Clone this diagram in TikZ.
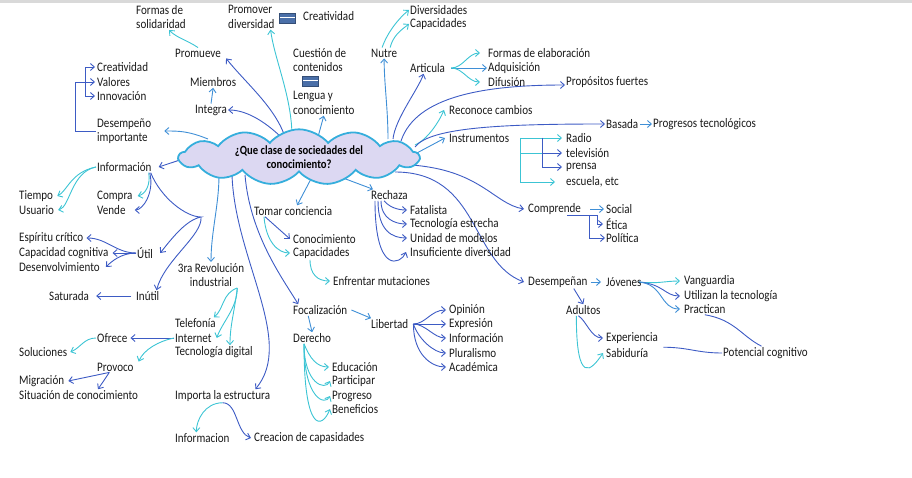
\documentclass[tikz,border=0pt]{standalone}
\usepackage{fontspec}
\setmainfont{Carlito}[FakeStretch=0.85]
\usetikzlibrary{shapes.symbols,arrows.meta,backgrounds}

\definecolor{lcyan}{HTML}{3CC4D4}
\definecolor{lblue}{HTML}{3D5BC4}
\definecolor{lmid}{HTML}{3F8FD6}
\definecolor{cloudfill}{HTML}{DCD8F2}
\definecolor{cloudline}{HTML}{35AEDC}
\definecolor{iconblue}{HTML}{4A6FA8}

\tikzset{
  txt/.style={anchor=west, inner sep=1pt, align=left, text=black!90,
    font=\fontsize{13}{14.5}\selectfont},
  cloudbox/.style={cloud, cloud puffs=13, cloud puff arc=100, aspect=5,
    draw=cloudline, line width=1.8pt, fill=cloudfill, inner sep=0pt,
    minimum width=240pt, minimum height=46pt, align=center,
    font=\fontsize{12.5}{14}\selectfont\bfseries},
  noteicon/.style={rectangle, fill=iconblue, draw=iconblue!70!black,
    minimum width=16pt, minimum height=10pt, inner sep=0pt,
    path picture={\draw[white, line width=1pt] (path picture bounding box.west)
      -- (path picture bounding box.east);}},
  lnk/.style={->, draw=lmid, line width=0.9pt},
  lnkc/.style={->, draw=lcyan, line width=0.9pt},
  lnkb/.style={->, draw=lblue, line width=0.9pt},
  wire/.style={draw=lblue, line width=0.9pt}
}

\begin{document}
\begin{tikzpicture}[x=1pt, y=-1pt, >={Straight Barb[length=4pt,width=7pt]}]
  \useasboundingbox (0,0) rectangle (912,478);
  \fill[gray!30] (0,0) rectangle (912,3);

  \pgfmathsetmacro{\xc}{299};
  \pgfmathsetmacro{\yc}{157};
  \node[cloudbox] (qs) at (\xc,\yc) {¿Que clase de sociedades del\\conocimiento?};

  % arriba
  \node[txt] (formas) at (135,17) {Formas de\\solidaridad};
  \node[txt] (promover) at (227,17) {Promover\\diversidad};
  \node[noteicon] (icon1) at (287,18) {};
  \node[txt] (creat1) at (302,16) {Creatividad};
  \node[txt] (cuestion) at (292,60) {Cuestión de\\contenidos};
  \node[noteicon] (icon2) at (310,81) {};
  \node[txt] (lengua) at (292,103) {Lengua y\\conocimiento};
  \node[txt] (promueve) at (174,53) {Promueve};
  \node[txt] (miembros) at (189,82) {Miembros};
  \node[txt] (integra) at (194,110) {Integra};
  \node[txt] (creat2) at (96,67) {Creatividad};
  \node[txt] (valores) at (96,82) {Valores};
  \node[txt] (innov) at (96,96) {Innovación};
  \node[txt] (desemp) at (96,131) {Desempeño\\importante};

  % izquierda
  \node[txt] (info) at (96,167) {Información};
  \node[txt] (tiempo) at (18,196) {Tiempo};
  \node[txt] (usuario) at (18,210) {Usuario};
  \node[txt] (compra) at (96,196) {Compra};
  \node[txt] (vende) at (96,210) {Vende};
  \node[txt] (espiritu) at (18,238) {Espíritu crítico};
  \node[txt] (capcog) at (18,253) {Capacidad cognitiva};
  \node[txt] (desenv) at (18,267) {Desenvolvimiento};
  \node[txt] (util) at (136,253) {Útil};
  \node[txt] (saturada) at (48,296) {Saturada};
  \node[txt] (inutil) at (135,296) {Inútil};
  \node[txt, anchor=center, align=center] (revol) at (211,275) {3ra Revolución\\industrial};
  \node[txt] (telef) at (174,323) {Telefonía};
  \node[txt] (internet) at (174,338) {Internet};
  \node[txt] (tecdig) at (174,352) {Tecnología digital};
  \node[txt] (ofrece) at (96,338) {Ofrece};
  \node[txt] (soluc) at (18,352) {Soluciones};
  \node[txt] (provoco) at (96,367) {Provoco};
  \node[txt] (migra) at (18,381) {Migración};
  \node[txt] (situac) at (18,395) {Situación de conocimiento};
  \node[txt] (importa) at (174,396) {Importa la estructura};
  \node[txt] (informacion) at (174,438) {Informacion};
  \node[txt] (creacion) at (253,438) {Creacion de capasidades};

  % centro abajo
  \node[txt] (tomar) at (253,211) {Tomar conciencia};
  \node[txt] (conoc) at (292,239) {Conocimiento};
  \node[txt] (capac) at (292,253) {Capacidades};
  \node[txt] (enfrentar) at (332,281) {Enfrentar mutaciones};
  \node[txt] (rechaza) at (370,195) {Rechaza};
  \node[txt] (fatal) at (409,210) {Fatalista};
  \node[txt] (tecest) at (409,224) {Tecnología estrecha};
  \node[txt] (unidad) at (409,238) {Unidad de modelos};
  \node[txt] (insuf) at (409,252) {Insuficiente diversidad};
  \node[txt] (focal) at (292,310) {Focalización};
  \node[txt] (derecho) at (292,338) {Derecho};
  \node[txt] (libertad) at (370,324) {Libertad};
  \node[txt] (opinion) at (448,310) {Opinión};
  \node[txt] (expres) at (448,324) {Expresión};
  \node[txt] (infolib) at (448,338) {Información};
  \node[txt] (plural) at (448,353) {Pluralismo};
  \node[txt] (academ) at (448,367) {Académica};
  \node[txt] (educ) at (331,367) {Educación};
  \node[txt] (partic) at (331,381) {Participar};
  \node[txt] (progreso) at (331,396) {Progreso};
  \node[txt] (benef) at (331,409) {Beneficios};

  % derecha
  \node[txt] (divers) at (409,10) {Diversidades};
  \node[txt] (capac2) at (409,24) {Capacidades};
  \node[txt] (nutre) at (370,53) {Nutre};
  \node[txt] (articula) at (409,68) {Articula};
  \node[txt] (formaselab) at (487,53) {Formas de elaboración};
  \node[txt] (adquis) at (487,68) {Adquisición};
  \node[txt] (difus) at (487,82) {Difusión};
  \node[txt] (propos) at (565,82) {Propósitos fuertes};
  \node[txt] (reconoce) at (448,110) {Reconoce cambios};
  \node[txt] (basada) at (605,124) {Basada};
  \node[txt] (progtec) at (652,124) {Progresos tecnológicos};
  \node[txt] (instrum) at (448,138) {Instrumentos};
  \node[txt] (radio) at (565,138) {Radio};
  \node[txt] (tele) at (565,153) {televisión};
  \node[txt] (prensa) at (565,167) {prensa};
  \node[txt] (escuela) at (565,182) {escuela, etc};
  \node[txt] (comprende) at (527,209) {Comprende};
  \node[txt] (social) at (605,209) {Social};
  \node[txt] (etica) at (605,224) {Ética};
  \node[txt] (politica) at (605,238) {Política};
  \node[txt] (desempenan) at (527,282) {Desempeñan};
  \node[txt] (jovenes) at (605,282) {Jóvenes};
  \node[txt] (adultos) at (565,310) {Adultos};
  \node[txt] (vanguard) at (683,281) {Vanguardia};
  \node[txt] (utilizan) at (683,296) {Utilizan la tecnología};
  \node[txt] (practican) at (683,309) {Practican};
  \node[txt] (experien) at (605,338) {Experiencia};
  \node[txt] (sabid) at (605,353) {Sabiduría};
  \node[txt] (potencial) at (722,353) {Potencial cognitivo};

  \coordinate (fork) at (201,217);

  \begin{scope}[on background layer]
    % desde la nube hacia arriba
    \draw[lnkc] ([shift={(-7,-20)}]qs.center) .. controls +(0,-40) and +(4,30) .. ([xshift=-5pt]promover.south east);
    \draw[lnkb] ([shift={(-14,-20)}]qs.center) .. controls +(-10,-30) and +(20,25) .. ([xshift=4pt]promueve.south east);
    \draw[lnkb] ([shift={(-16,-18)}]qs.center) .. controls +(-15,-15) and +(20,0) .. (integra.east);
    \draw[lnk] (integra.north) -- (miembros.south);
    \draw[lnkc] (promueve.north) .. controls +(-12,-8) and +(8,8) .. ([xshift=8pt]formas.south);
    \draw[lnk] ([shift={(19,-20)}]qs.center) -- (lengua.south);
    \draw[lnk] ([shift={(-91,-18)}]qs.center) .. controls +(-20,-8) and +(15,0) .. ([xshift=12pt]desemp.east);
    \draw[lnkb] (desemp.west) -- ++(-21,0) |- ([xshift=-1pt]valores.west);
    \draw[lnkb] ([xshift=-11pt]valores.west) |- ([xshift=-1pt]creat2.west);
    \draw[lnkb] ([xshift=-11pt]valores.west) |- ([xshift=-1pt]innov.west);
    \draw[lnkb] ([shift={(-110,0)}]qs.center) -- ([xshift=6pt]info.east);

    % informacion
    \draw[lnkc] ([xshift=-4pt]info.south east) .. controls +(2,12) and +(8,-2) .. ([xshift=4pt]compra.east);
    \draw[lnkb] ([xshift=-3pt]info.south east) .. controls +(5,20) and +(8,0) .. ([xshift=8pt]vende.east);
    \draw[lnkc] (info.west) .. controls +(-25,5) and +(10,-5) .. ([xshift=3pt]tiempo.east);
    \draw[lnkc] (info.west) .. controls +(-25,5) and +(12,-3) .. ([xshift=3pt]usuario.east);
    \draw[lnkb] ([xshift=-2pt]info.south east) .. controls +(10,25) and +(-15,0) .. (fork)
      .. controls +(-15,3) and +(12,-15) .. ([xshift=6pt]util.east);
    \draw[lnkb] (fork) .. controls +(2,18) and +(8,-30) .. ([xshift=-4pt]inutil.north east);
    \draw[lnkb] (util.west) .. controls +(-20,0) and +(20,0) .. ([xshift=2pt]espiritu.east);
    \draw[lnkb] (util.west) -- ([xshift=3pt]capcog.east);
    \draw[lnkb] (util.west) .. controls +(-15,0) and +(5,-5) .. ([xshift=5pt]desenv.east);
    \draw[lnkb] ([xshift=-4pt]inutil.west) -- ([xshift=6pt]saturada.east);

    % hacia abajo
    \draw[lnk] ([shift={(-80,18)}]qs.center) .. controls +(0,30) and +(0,-30) .. (revol.north);
    \draw[lnkc] ([xshift=-8pt]revol.south east) .. controls +(-15,5) and +(10,-8) .. ([xshift=-3pt]telef.north east);
    \draw[lnkc] ([xshift=-8pt]revol.south east) .. controls +(0,20) and +(5,-15) .. ([xshift=4pt]internet.east);
    \draw[lnkc] ([xshift=-8pt]revol.south east) .. controls +(-3,25) and +(0,-20) .. ([xshift=16pt]tecdig.north);
    \draw[lnkb] (internet.west) -- ([xshift=2pt]ofrece.east);
    \draw[lnkc] (internet.west) .. controls +(-15,3) and +(5,-12) .. ([xshift=4pt]provoco.north east);
    \draw[lnkc] (ofrece.west) .. controls +(-12,0) and +(10,-4) .. ([xshift=2pt]soluc.east);
    \draw[lnkb] ([xshift=-6pt]provoco.south) -- ([xshift=3pt]migra.east);
    \draw[lnkb] ([xshift=-6pt]provoco.south) -- ([xshift=80pt]situac.north west);
    \draw[lnkb] ([shift={(-67,18)}]qs.center) .. controls +(3,85) and +(40,-48) .. ([xshift=-16pt]importa.north east);
    \draw[lnkc] (importa.south) .. controls +(-18,0) and +(0,-12) .. ([xshift=-6pt]informacion.north);
    \draw[lnkb] (importa.south) .. controls +(15,0) and +(-15,-5) .. ([xshift=-2pt]creacion.west);
    \draw[lnkb] ([shift={(-54,18)}]qs.center) .. controls +(5,60) and +(-15,-25) .. ([xshift=-22pt]focal.north);
    \draw[lnk] ([xshift=-12pt]focal.south) -- (derecho.north);
    \draw[lnk] ([xshift=3pt]focal.east) -- ([xshift=1pt]libertad.north west);
    \draw[lnkb] ([xshift=4pt]libertad.east) .. controls +(12,0) and +(-15,0) .. ([xshift=-2pt]opinion.west);
    \draw[lnkb] ([xshift=4pt]libertad.east) -- ([xshift=-2pt]expres.west);
    \draw[lnkb] ([xshift=4pt]libertad.east) .. controls +(12,0) and +(-12,0) .. ([xshift=-2pt]infolib.west);
    \draw[lnkb] ([xshift=4pt]libertad.east) .. controls +(5,15) and +(-12,0) .. ([xshift=-2pt]plural.west);
    \draw[lnkb] ([xshift=4pt]libertad.east) .. controls +(0,30) and +(-15,0) .. ([xshift=-2pt]academ.west);
    \draw[lnkc] ([xshift=12pt]derecho.south west) .. controls +(6,15) and +(-12,0) .. ([xshift=-2pt]educ.west);
    \draw[lnkc] ([xshift=12pt]derecho.south west) .. controls +(0,40) and +(-5,10) .. ([xshift=-1pt]partic.west);
    \draw[lnkc] ([xshift=12pt]derecho.south west) .. controls +(0,55) and +(-5,10) .. ([xshift=-1pt]progreso.west);
    \draw[lnkc] ([xshift=12pt]derecho.south west) .. controls +(0,90) and +(-8,20) .. ([xshift=-1pt]benef.west);

    % tomar conciencia, rechaza
    \draw[lnk] ([shift={(13,20)}]qs.center) -- ([xshift=4pt]tomar.north);
    \draw[lnkb] ([xshift=12pt]tomar.south west) -- ([xshift=-2pt]conoc.west);
    \draw[lnkc] ([xshift=11pt]tomar.south west) .. controls +(2,25) and +(-12,0) .. ([xshift=-2pt]capac.west);
    \draw[lnkc] ([xshift=18pt]capac.south west) .. controls +(0,15) and +(-12,0) .. ([xshift=-2pt]enfrentar.west);
    \draw[lnk] ([shift={(36,18)}]qs.center) -- ([xshift=3pt]rechaza.north west);
    \draw[lnkb] ([xshift=14pt]rechaza.south west) .. controls +(5,6) and +(-10,0) .. ([xshift=-2pt]fatal.west);
    \draw[lnkb] ([xshift=11pt]rechaza.south west) .. controls +(0,18) and +(-12,0) .. ([xshift=-2pt]tecest.west);
    \draw[lnkb] ([xshift=8pt]rechaza.south west) .. controls +(0,30) and +(-15,0) .. ([xshift=-2pt]unidad.west);
    \draw[lnkb] ([xshift=5pt]rechaza.south west) .. controls +(0,75) and +(-5,12) .. ([xshift=-3pt]insuf.west);

    % derecha
    \draw[lnk] ([shift={(89,-18)}]qs.center) .. controls +(0,-30) and +(0,25) .. (nutre.south);
    \draw[lnkc] ([xshift=-2pt]nutre.north) .. controls +(5,-15) and +(-10,8) .. (divers.west);
    \draw[lnkc] ([xshift=6pt]nutre.north) .. controls +(3,-12) and +(-8,6) .. (capac2.west);
    \draw[lnkb] ([shift={(94,-18)}]qs.center) .. controls +(2,-20) and +(-5,15) .. ([xshift=-4pt]articula.south);
    \draw[lnkc] ([xshift=5pt]articula.east) .. controls +(12,0) and +(-12,0) .. ([xshift=-7pt]formaselab.west);
    \draw[lnk] ([xshift=5pt]articula.east) -- (adquis.west);
    \draw[lnkc] ([xshift=5pt]articula.east) .. controls +(12,0) and +(-12,0) .. ([xshift=-7pt]difus.west);
    \draw[lnkb] ([shift={(102,-16)}]qs.center) .. controls +(15,-45) and +(-80,0) .. ([yshift=-3pt]propos.west);
    \draw[lnkc] ([shift={(116,-12)}]qs.center) .. controls +(12,-5) and +(-5,12) .. ([xshift=-4pt]reconoce.west);
    \draw[lnkb] ([shift={(116,-10)}]qs.center) .. controls +(15,-20) and +(-100,0) .. (basada.west);
    \draw[lnk] ([xshift=1pt]basada.east) -- (progtec.west);
    \draw[lnk] ([shift={(116,-3)}]qs.center) -- ([xshift=-3pt]instrum.west);
    \draw[lnkc] ([xshift=10pt]instrum.east) -- ([xshift=-3pt]radio.west);
    \draw[lnkb] ([xshift=10pt]instrum.east) ++(22,0) |- ([xshift=-3pt]tele.west);
    \draw[lnkb] ([xshift=10pt]instrum.east) ++(22,0) |- ([xshift=-3pt]prensa.west);
    \draw[lnkc] ([xshift=10pt]instrum.east) |- ([xshift=-10pt]escuela.west);
    \draw[lnkc, -] ([xshift=10pt]instrum.east) ++(0,15) -- ++(22,0);
    \draw[lnkb] ([shift={(112,8)}]qs.center) .. controls +(70,5) and +(-30,-5) .. ([xshift=-3pt]comprende.west);
    \draw[lnk] ([xshift=8pt]comprende.east) -- ([xshift=-1pt]social.west);
    \draw[lnkb] ([xshift=-15pt]comprende.south east) -- ++(30,0) |- ([xshift=-2pt]etica.west);
    \draw[lnkb] ([xshift=-15pt]comprende.south east) -- ++(22,0) |- (politica.west);
    \draw[lnkb] ([shift={(96,15)}]qs.center) .. controls +(85,0) and +(-54,-20) .. ([xshift=-3pt]desempenan.west);
    \draw[lnk] ([xshift=2pt]desempenan.east) -- ([xshift=-4pt]jovenes.west);
    \draw[lnkb] ([xshift=16pt]desempenan.south) -- (adultos.north);
    \draw[lnkc] ([xshift=-4pt]jovenes.east) .. controls +(20,2) and +(-15,0) .. ([xshift=-3pt]vanguard.west);
    \draw[lnkb] ([xshift=-4pt]jovenes.east) .. controls +(25,2) and +(-15,0) .. ([xshift=-3pt]utilizan.west);
    \draw[lnk] ([xshift=-4pt]jovenes.east) .. controls +(25,2) and +(-20,0) .. ([xshift=-3pt]practican.west);
    \draw[lnkb] ([xshift=-5pt]adultos.south) .. controls +(8,5) and +(-12,0) .. ([xshift=-2pt]experien.west);
    \draw[lnkc] ([xshift=-7pt]adultos.south) .. controls +(0,70) and +(-12,18) .. ([xshift=-2pt]sabid.west);
    \draw[wire] (practican.south) .. controls +(30,5) and +(-20,-10) .. ([xshift=-4pt]potencial.north);
    \draw[wire] ([xshift=14pt]sabid.north east) .. controls +(25,0) and +(-25,0) .. (potencial.west);
  \end{scope}
\end{tikzpicture}
\end{document}
